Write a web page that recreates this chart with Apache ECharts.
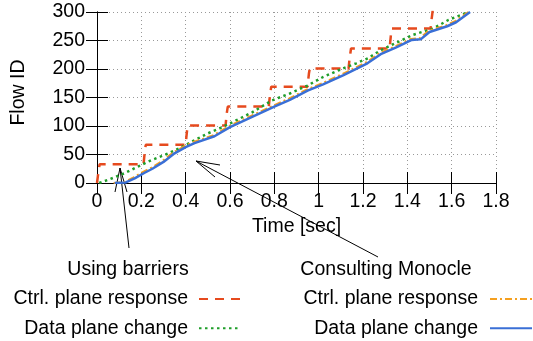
<!DOCTYPE html>
<html>
<head>
<meta charset="utf-8">
<script src="https://cdn.jsdelivr.net/npm/echarts@6/dist/echarts.min.js"></script>
<style>
  html, body { margin: 0; padding: 0; background: #fff; }
  #chart { width: 533px; height: 341px; }
</style>
</head>
<body>
<div id="chart"></div>
<script>
  // Flow ID over time, [sec, flow id]
  const barrierCtrl = [
    [0, 0], [0.004, 12], [0.008, 24], [0.012, 33],
    [0.21, 33], [0.213, 45], [0.216, 56], [0.22, 67],
    [0.4, 67], [0.403, 80], [0.406, 91], [0.41, 101],
    [0.58, 101], [0.583, 113], [0.586, 124], [0.59, 134],
    [0.775, 134], [0.778, 146], [0.782, 158], [0.786, 169],
    [0.95, 169], [0.953, 181], [0.956, 192], [0.96, 201],
    [1.135, 201], [1.138, 213], [1.142, 225], [1.146, 236],
    [1.32, 236], [1.323, 248], [1.326, 260], [1.33, 271],
    [1.505, 271], [1.508, 283], [1.512, 295], [1.515, 305]
  ];
  const barrierData = [
    [0.01, 0], [0.06, 7], [0.124, 17], [0.18, 28], [0.245, 40], [0.31, 50],
    [0.373, 61], [0.44, 75], [0.5, 87], [0.56, 97], [0.613, 107], [0.7, 124],
    [0.79, 145], [0.87, 157], [0.95, 171], [1.02, 186], [1.11, 201], [1.17, 210],
    [1.223, 219], [1.276, 232], [1.35, 246], [1.426, 260], [1.517, 271],
    [1.585, 286], [1.675, 300]
  ];
  const monocleCtrl = [
    [0.075, 0], [0.125, 2], [0.165, 10], [0.21, 20], [0.245, 27], [0.295, 39],
    [0.345, 54], [0.395, 65], [0.435, 72], [0.525, 84], [0.595, 100], [0.695, 118],
    [0.795, 136], [0.865, 148], [0.945, 164], [1.015, 175], [1.105, 191],
    [1.215, 212], [1.275, 228], [1.345, 240], [1.415, 253], [1.455, 254],
    [1.495, 267], [1.575, 277], [1.615, 284], [1.675, 300]
  ];
  const monocleData = [
    [0.08, 0], [0.13, 1], [0.17, 8], [0.215, 18], [0.25, 25], [0.3, 37],
    [0.35, 52], [0.4, 63], [0.44, 70], [0.53, 82], [0.6, 98], [0.7, 116],
    [0.8, 134], [0.87, 146], [0.95, 162], [1.02, 173], [1.11, 189], [1.22, 210],
    [1.28, 226], [1.35, 238], [1.42, 251], [1.46, 252], [1.5, 265], [1.58, 275],
    [1.62, 282], [1.683, 300]
  ];

  const FONT = 'Liberation Sans';
  const FS = 19.5;

  let chart = echarts.init(document.getElementById('chart'));

  // inward ticks on all four sides, gnuplot style
  const tick = { show: true, inside: true, length: 11, lineStyle: { color: '#000' } };
  const line = { show: true, lineStyle: { color: '#000', width: 1 } };
  const grid = { show: true, lineStyle: { color: '#999', type: [1, 3], width: 1 } };

  const legendText = { fontSize: FS, color: '#000', fontFamily: FONT, lineHeight: 22 };

  let option = {
    animation: false,
    textStyle: { fontFamily: FONT },
    grid: { left: 97, right: 37, top: 12, bottom: 158 },
    xAxis: [
      {
        type: 'value', min: 0, max: 1.8, interval: 0.2,
        axisLine: line, axisTick: tick, splitLine: grid,
        axisLabel: { fontSize: FS, color: '#000', margin: 9, fontFamily: FONT },
        name: 'Time [sec]', nameLocation: 'middle', nameGap: 34,
        nameTextStyle: { fontSize: FS, color: '#000', fontFamily: FONT }
      },
      {
        type: 'value', min: 0, max: 1.8, interval: 0.2, position: 'top',
        axisLine: line, axisTick: tick, splitLine: { show: false },
        axisLabel: { show: false }
      }
    ],
    yAxis: [
      {
        type: 'value', min: 0, max: 300, interval: 50,
        axisLine: line, axisTick: tick, splitLine: grid,
        axisLabel: { fontSize: FS, color: '#000', margin: 12, fontFamily: FONT },
        name: 'Flow ID', nameLocation: 'middle', nameGap: 68, nameRotate: 90,
        nameTextStyle: { fontSize: FS, color: '#000', fontFamily: FONT, padding: [0, 0, 0, 10] }
      },
      {
        type: 'value', min: 0, max: 300, interval: 50, position: 'right',
        axisLine: line, axisTick: tick, splitLine: { show: false },
        axisLabel: { show: false }
      }
    ],
    legend: [
      {
        data: ['Ctrl. plane response|b', 'Data plane change|b'],
        orient: 'vertical', align: 'right', right: 292, top: 288, height: 80,
        padding: 0, itemWidth: 41, itemHeight: 14, itemGap: 7.3,
        itemStyle: { opacity: 0 },
        formatter: n => n.split('|')[0],
        textStyle: Object.assign({ padding: [0, 6, 0, 0] }, legendText)
      },
      {
        data: ['Ctrl. plane response|m', 'Data plane change|m'],
        orient: 'vertical', align: 'right', right: 0, top: 288, height: 80,
        padding: 0, itemWidth: 42, itemHeight: 14, itemGap: 7.3,
        itemStyle: { opacity: 0 },
        formatter: n => n.split('|')[0],
        textStyle: Object.assign({ padding: [0, 7, 0, 0] }, legendText)
      }
    ],
    graphic: [
      { type: 'text', x: 128, y: 270, style: { text: 'Using barriers', fontSize: FS, fontFamily: FONT, fill: '#000', align: 'center', verticalAlign: 'middle' } },
      { type: 'text', x: 386, y: 270, style: { text: 'Consulting Monocle', fontSize: FS, fontFamily: FONT, fill: '#000', align: 'center', verticalAlign: 'middle' } },
      // arrows from the labels into the plot
      { type: 'line', shape: { x1: 129, y1: 248, x2: 120, y2: 168 }, style: { stroke: '#000', lineWidth: 1 } },
      { type: 'polyline', shape: { points: [[115, 192], [120, 168], [127, 192]] }, style: { stroke: '#000', lineWidth: 1, fill: null } },
      { type: 'line', shape: { x1: 378, y1: 257, x2: 196, y2: 161 }, style: { stroke: '#000', lineWidth: 1 } },
      { type: 'polyline', shape: { points: [[220, 165], [196, 161], [215, 177]] }, style: { stroke: '#000', lineWidth: 1, fill: null } }
    ],
    series: [
      {
        name: 'Ctrl. plane response|b', type: 'line', data: barrierCtrl,
        symbol: 'none', clip: true,
        itemStyle: { color: '#e64a1e' },
        lineStyle: { color: '#e64a1e', width: 2.5, type: [9, 7] }
      },
      {
        name: 'Data plane change|b', type: 'line', data: barrierData,
        symbol: 'none', clip: true,
        itemStyle: { color: '#1f9e2a' },
        lineStyle: { color: '#1f9e2a', width: 2.5, type: [2.5, 3.5] }
      },
      {
        name: 'Ctrl. plane response|m', type: 'line', data: monocleCtrl,
        symbol: 'none', clip: true,
        itemStyle: { color: '#f5a020' },
        lineStyle: { color: '#f5a020', width: 1.8, type: [7, 3, 2, 3] }
      },
      {
        name: 'Data plane change|m', type: 'line', data: monocleData,
        symbol: 'none', clip: true,
        itemStyle: { color: '#3a6fd6' },
        lineStyle: { color: '#3a6fd6', width: 2.5 }
      }
    ]
  };
  chart.setOption(option);
  window.addEventListener('resize', function () {
    chart.resize();
  });
</script>
</body>
</html>
